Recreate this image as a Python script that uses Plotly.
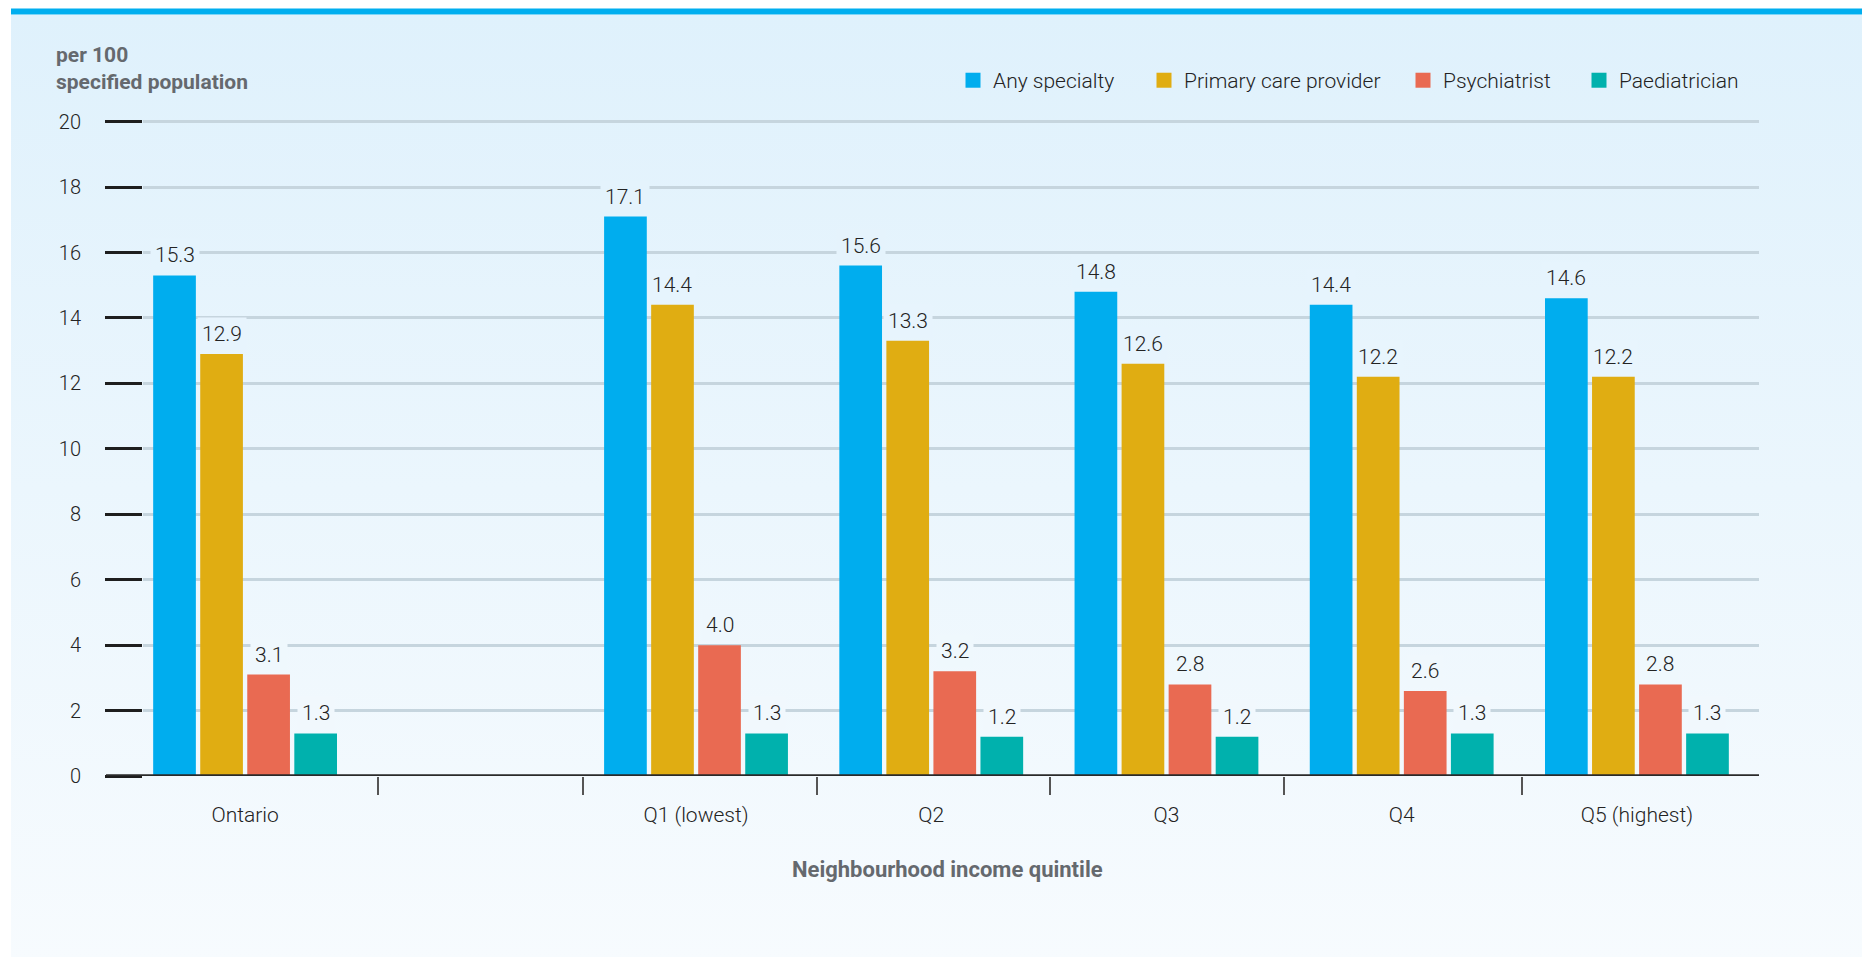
import base64
import plotly.graph_objects as go

# ---------------- data ----------------
categories = ["Ontario", "Q1 (lowest)", "Q2", "Q3", "Q4", "Q5 (highest)"]
series_names = ["Any specialty", "Primary care provider", "Psychiatrist", "Paediatrician"]
any_specialty = [15.3, 17.1, 15.6, 14.8, 14.4, 14.6]
primary_care = [12.9, 14.4, 13.3, 12.6, 12.2, 12.2]
psychiatrist = [3.1, 4.0, 3.2, 2.8, 2.6, 2.8]
paediatrician = [1.3, 1.3, 1.2, 1.2, 1.3, 1.3]
y_tick_values = [0, 2, 4, 6, 8, 10, 12, 14, 16, 18, 20]
y_title = "per 100<br>specified population"
x_title = "Neighbourhood income quintile"

# ---------------- styling / layout ----------------
colors = ["#00ADEE", "#E0AD12", "#E96A52", "#00B1AD"]
FONT = "Roboto, Liberation Sans, sans-serif"
LIGHT = 300
OFF = 8                                   # page body margin
PAGE_W, PAGE_H = 1870, 957
W, H = PAGE_W - OFF, PAGE_H - OFF
# plot-area bounds in page pixels
PL, PR, PT, PB = 143, 1759, 120.4, 776
Y_MAX = 20.05
PW, PH = PR - PL, PB - PT

def px_x(p):   # page pixel -> paper x
    return (p - PL) / PW

def px_y(p):   # page pixel -> paper y
    return (PB - p) / PH

# group positions on a numeric axis: Ontario, an empty slot, then quintiles
GAP = 0.917
x_pos = [0.0] + [1 + GAP + i for i in range(len(categories) - 1)]
x_range = [-0.434, 6.436]
boundaries = [0.565, 1.437, 2.43, 3.42, 4.417, 5.427]
BARGAP, GROUPGAP = 0.2, 0.0925
slot = (1 - BARGAP) / len(series_names)

top_rgb, bot_rgb = (223, 241, 252), (247, 251, 254)

def bg_at(py):
    t = min(max((py - 15) / (PAGE_H - 15), 0), 1)
    c = [round(a + (b - a) * t) for a, b in zip(top_rgb, bot_rgb)]
    return "rgb(%d,%d,%d)" % tuple(c)

svg = (
    '<svg xmlns="http://www.w3.org/2000/svg" width="100" height="100" '
    'viewBox="0 0 100 100" preserveAspectRatio="none">'
    '<defs><linearGradient id="g" x1="0" y1="0" x2="0" y2="1">'
    '<stop offset="0" stop-color="rgb(%d,%d,%d)"/>' % top_rgb +
    '<stop offset="1" stop-color="rgb(%d,%d,%d)"/>' % bot_rgb +
    '</linearGradient></defs><rect width="100" height="100" fill="url(#g)"/></svg>'
)
svg_uri = "data:image/svg+xml;base64," + base64.b64encode(svg.encode()).decode()

all_series = [any_specialty, primary_care, psychiatrist, paediatrician]

fig = go.Figure()
for name, vals, col in zip(series_names, all_series, colors):
    fig.add_trace(go.Bar(x=x_pos, y=vals, name=name, marker=dict(color=col, line=dict(width=0)),
                         hoverinfo="y+name", showlegend=False))

# legend entries (one legend per entry so spacing can follow the reference)
legend_starts = [970, 1161, 1420, 1596]
legend_keys = ["legend", "legend2", "legend3", "legend4"]
for name, col, key in zip(series_names, colors, legend_keys):
    fig.add_trace(go.Scatter(x=[None], y=[None], mode="markers", name=name, legend=key,
                             marker=dict(symbol="square", size=15, color=col), showlegend=True))

px_per_y = PH / Y_MAX
annotations = []
for i, vals in enumerate(all_series):
    for xp, v in zip(x_pos, vals):
        label_py = PB - v * px_per_y - 22
        annotations.append(dict(
            x=xp + (i - 1.5) * slot, y=v, xref="x", yref="y",
            text=f"{v:.1f}", showarrow=False, yanchor="bottom", yshift=3,
            font=dict(family=FONT, size=21, color="#232323", weight=LIGHT),
            bgcolor=bg_at(label_py), borderpad=4,
        ))

annotations.append(dict(
    x=px_x(54), y=px_y(41), xref="paper", yref="paper", xanchor="left", yanchor="top",
    text=y_title, showarrow=False, align="left",
    font=dict(family=FONT, size=21, color="#65696E", weight="bold"),
))
annotations.append(dict(
    x=px_x(947), y=px_y(869), xref="paper", yref="paper", xanchor="center", yanchor="middle",
    text=x_title, showarrow=False,
    font=dict(family=FONT, size=22, color="#65696E", weight="bold"),
))

shapes = [
    dict(type="rect", xref="paper", yref="paper", x0=px_x(11), x1=px_x(PAGE_W + 5),
         y0=px_y(15), y1=px_y(9), fillcolor="#00AEEF", line=dict(width=0), layer="above"),
    dict(type="line", xref="paper", yref="y", x0=px_x(106), x1=1, y0=0, y1=0,
         line=dict(color="#2A2A2A", width=3.5), layer="above"),
]

legend_font = dict(family=FONT, size=21, color="#232323", weight=LIGHT)
legends = {}
for key, start in zip(legend_keys, legend_starts):
    legends[key] = dict(orientation="h", x=px_x(start - 17), xanchor="left",
                        y=px_y(81), yanchor="middle", bgcolor="rgba(0,0,0,0)",
                        font=legend_font, itemclick=False, itemdoubleclick=False)

fig.update_layout(
    width=W, height=H,
    margin=dict(l=PL - OFF, r=PAGE_W - PR, t=PT - OFF, b=PAGE_H - PB),
    paper_bgcolor="white", plot_bgcolor="rgba(0,0,0,0)",
    barmode="group", bargap=BARGAP, bargroupgap=GROUPGAP,
    font=dict(family=FONT, size=20, color="#232323"),
    images=[dict(source=svg_uri, xref="paper", yref="paper", x=px_x(11), y=px_y(15),
                 sizex=(PAGE_W - 11 + 5) / PW, sizey=(PAGE_H - 15 + 5) / PH,
                 xanchor="left", yanchor="top", sizing="stretch", layer="below")],
    shapes=shapes, annotations=annotations,
    showlegend=True,
    **legends,
)
fig.update_xaxes(
    range=x_range, tickmode="array", tickvals=x_pos, ticktext=categories,
    ticks="", showgrid=False, zeroline=False, showline=False,
    ticklabelstandoff=24, tickfont=dict(family=FONT, size=21, color="#232323", weight=LIGHT),
    minor=dict(tickmode="array", tickvals=boundaries, ticks="outside", ticklen=18,
               tickwidth=2, tickcolor="#555555", showgrid=False),
)
fig.update_yaxes(
    range=[0, Y_MAX], tickmode="array", tickvals=y_tick_values,
    ticks="outside", ticklen=37, tickwidth=3, tickcolor="#1E1E1E",
    showgrid=True, gridcolor="#C6D5DE", gridwidth=2.5, zeroline=False, showline=False,
    ticklabelstandoff=20, tickfont=dict(family=FONT, size=20, color="#232323", weight=LIGHT),
)

fig.write_html("out.html")
